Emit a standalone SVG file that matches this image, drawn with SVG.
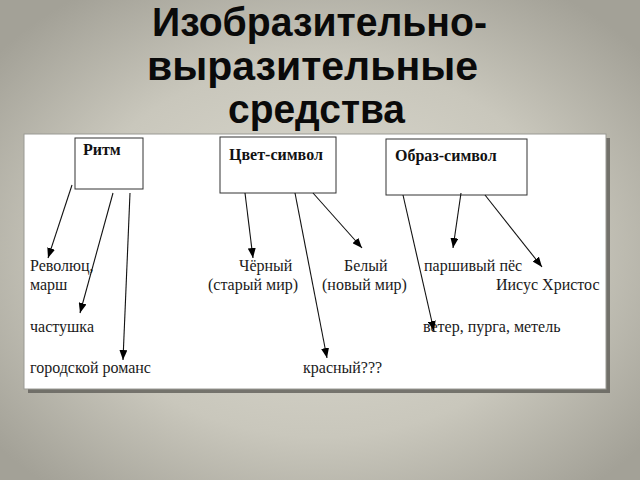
<svg xmlns="http://www.w3.org/2000/svg" width="640" height="480" viewBox="0 0 640 480">
<defs>
<radialGradient id="bg" cx="50%" cy="52%" r="65%">
<stop offset="0" stop-color="#dddbd1"/>
<stop offset="0.6" stop-color="#c9c7bc"/>
<stop offset="1" stop-color="#a3a197"/>
</radialGradient>
<marker id="ah" viewBox="0 0 10 8" refX="10" refY="4" markerWidth="10" markerHeight="8" markerUnits="userSpaceOnUse" orient="auto">
<path d="M0,0 L10,4 L0,8 z" fill="#000"/>
</marker>
<style>
.title{font-family:"Liberation Sans",Arial,sans-serif;font-weight:bold;font-size:41px;fill:#0a0a0a}
.box{fill:#fff;stroke:#333;stroke-width:1}
.lbl{font-family:"Liberation Serif","Times New Roman",serif;font-weight:bold;font-size:16px;fill:#111}
.t{font-family:"Liberation Serif","Times New Roman",serif;font-size:16px;fill:#1a1a1a}
.c line{stroke:#111;stroke-width:1.1;marker-end:url(#ah)}
</style>
</defs>
<rect width="640" height="480" fill="url(#bg)"/>
<g id="title">
<text class="title" x="152" y="36" textLength="335" lengthAdjust="spacingAndGlyphs">Изобразительно-</text>
<text class="title" x="147" y="80" textLength="331" lengthAdjust="spacingAndGlyphs">выразительные</text>
<text class="title" x="228" y="123" textLength="177" lengthAdjust="spacingAndGlyphs">средства</text>
</g>
<g id="panel">
<rect x="28" y="138" width="582" height="255" fill="#65645e" opacity="0.85"/>
<rect x="24" y="134" width="582" height="255" fill="#fff" stroke="#9a9a94" stroke-width="1"/>
</g>
<g id="node-ritm">
<rect class="box" x="75" y="138" width="68" height="51"/>
<text class="lbl" x="83" y="155">Ритм</text>
</g>
<g id="node-cvet">
<rect class="box" x="220" y="137" width="116" height="56"/>
<text class="lbl" x="229" y="160">Цвет-символ</text>
</g>
<g id="node-obraz">
<rect class="box" x="386" y="139" width="141" height="56"/>
<text class="lbl" x="395" y="161">Образ-символ</text>
</g>
<g id="leaves">
<text class="t" x="30" y="271">Революц,</text>
<text class="t" x="30" y="290">марш</text>
<text class="t" x="30" y="332">частушка</text>
<text class="t" x="30" y="373">городской романс</text>
<text class="t" x="239" y="271">Чёрный</text>
<text class="t" x="208" y="290">(старый мир)</text>
<text class="t" x="344" y="271">Белый</text>
<text class="t" x="322" y="290">(новый  мир)</text>
<text class="t" x="303" y="373">красный???</text>
<text class="t" x="424" y="271">паршивый пёс</text>
<text class="t" x="496" y="290">Иисус Христос</text>
<text class="t" x="423" y="332">ветер, пурга, метель</text>
</g>
<g id="connectors" class="c">
<line x1="72" y1="185" x2="48" y2="258"/>
<line x1="113" y1="193" x2="80" y2="313"/>
<line x1="130" y1="193" x2="123" y2="360"/>
<line x1="245" y1="193" x2="253" y2="258"/>
<line x1="295" y1="193" x2="327" y2="358"/>
<line x1="313" y1="193" x2="362" y2="248"/>
<line x1="403" y1="195" x2="434" y2="331"/>
<line x1="461" y1="193" x2="453" y2="248"/>
<line x1="485" y1="195" x2="542" y2="267"/>
</g>
</svg>
